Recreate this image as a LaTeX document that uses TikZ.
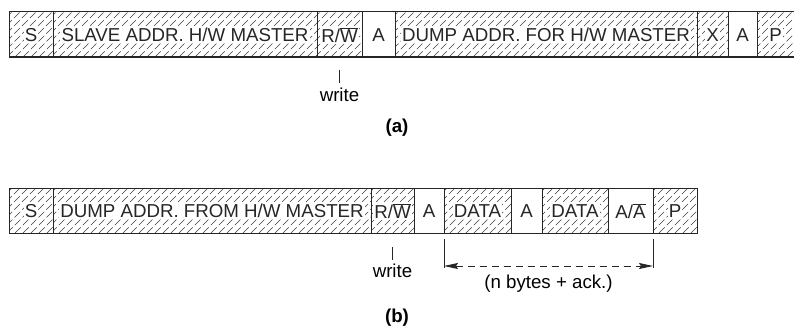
\documentclass[tikz,border=0pt]{standalone}
\usepackage{fontspec}
\setmainfont{Liberation Sans}
\usetikzlibrary{arrows.meta}
\newcommand{\ovl}[1]{$\overline{\mbox{#1}}$}
\newcommand{\mkcell}[6]{%
  \node[cell,#5,minimum width=#4pt] (#1) at (#2,#3) {};
  \node[lbl] (#1t) at ([yshift=-0.8pt]#1.center) {#6};}
\begin{document}
\begin{tikzpicture}[x=1pt,y=-1pt,
  font=\fontsize{18.7}{21}\selectfont,
  cell/.style={draw=black!85, line width=1pt, minimum height=45pt, inner sep=0pt, outer sep=0pt, anchor=north west},
  hatchline/.style={line width=0.55pt, dash pattern=on 8pt off 3pt, black!75},
  hatched/.style={path picture={%
    \foreach \k in {0,8,...,400}{%
      \draw[hatchline] ([xshift={\k pt-50pt}]path picture bounding box.south west) -- ++(50pt,50pt);}}},
  plaincell/.style={},
  opencell/.style={draw=none},
  lbl/.style={fill=white, inner sep=1.2pt, text=black!85},
  tickline/.style={line width=0.8pt, black!85},
  captext/.style={font=\fontsize{18.7}{21}\selectfont\bfseries},
  spanarrow/.style={dash pattern=on 7pt off 5pt, line width=0.8pt, black!85, {Stealth[length=14pt,width=6pt,inset=2pt]}-{Stealth[length=14pt,width=6pt,inset=2pt]}}
]
\useasboundingbox (0,0) rectangle (794,329);
% ---- row (a)
\mkcell{aS}{9}{12}{44}{hatched}{S}
\mkcell{aSl}{53}{12}{264}{hatched}{SLAVE ADDR. H/W MASTER}
\mkcell{aRW}{317}{12}{45}{hatched}{R/\ovl{W}}
\mkcell{aA1}{362}{12}{33}{plaincell}{A}
\mkcell{aD}{395}{12}{302}{hatched}{DUMP ADDR. FOR H/W MASTER}
\mkcell{aX}{697}{12}{31}{hatched}{X}
\mkcell{aA2}{728}{12}{29}{plaincell}{A}
\mkcell{aP}{757}{12}{37}{hatched,opencell}{P}
\draw[line width=1pt, black!85] (aP.north west) -- (aP.north east);
\draw[line width=1pt, black!85] (aP.south west) -- (aP.south east);
\coordinate (aw1) at (339.5,70);
\coordinate (aw2) at (339.5,83);
\draw[tickline] (aw1) -- (aw2);
\node (awr) at (339.5,95) {write};
\node[captext] (capa) at (397,128) {(a)};
% ---- row (b)
\mkcell{bS}{9}{188}{44}{hatched}{S}
\mkcell{bDm}{53}{188}{318}{hatched}{DUMP ADDR. FROM H/W MASTER}
\mkcell{bRW}{371}{188}{43}{hatched}{R/\ovl{W}}
\mkcell{bA1}{414}{188}{30}{plaincell}{A}
\mkcell{bD1}{444}{188}{67}{hatched}{DATA}
\mkcell{bA2}{511}{188}{31}{plaincell}{A}
\mkcell{bD2}{542}{188}{66}{hatched}{DATA}
\mkcell{bA3}{608}{188}{45}{plaincell}{A/\ovl{A}}
\mkcell{bP}{653}{188}{44}{hatched}{P}
\coordinate (bw1) at (392.5,247);
\coordinate (bw2) at (392.5,260);
\draw[tickline] (bw1) -- (bw2);
\node (bwr) at (392.5,271) {write};
\coordinate (bl1) at (444,239);
\coordinate (bl2) at (444,268);
\coordinate (br1) at (653,239);
\coordinate (br2) at (653,268);
\draw[tickline] (bl1) -- (bl2);
\draw[tickline] (br1) -- (br2);
\coordinate (ba1) at (444,266);
\coordinate (ba2) at (653,266);
\draw[spanarrow] (ba1) -- (ba2);
\node (bn) at (548.5,284) {(n bytes + ack.)};
\node[captext] (capb) at (397,318) {(b)};
\end{tikzpicture}
\end{document}
